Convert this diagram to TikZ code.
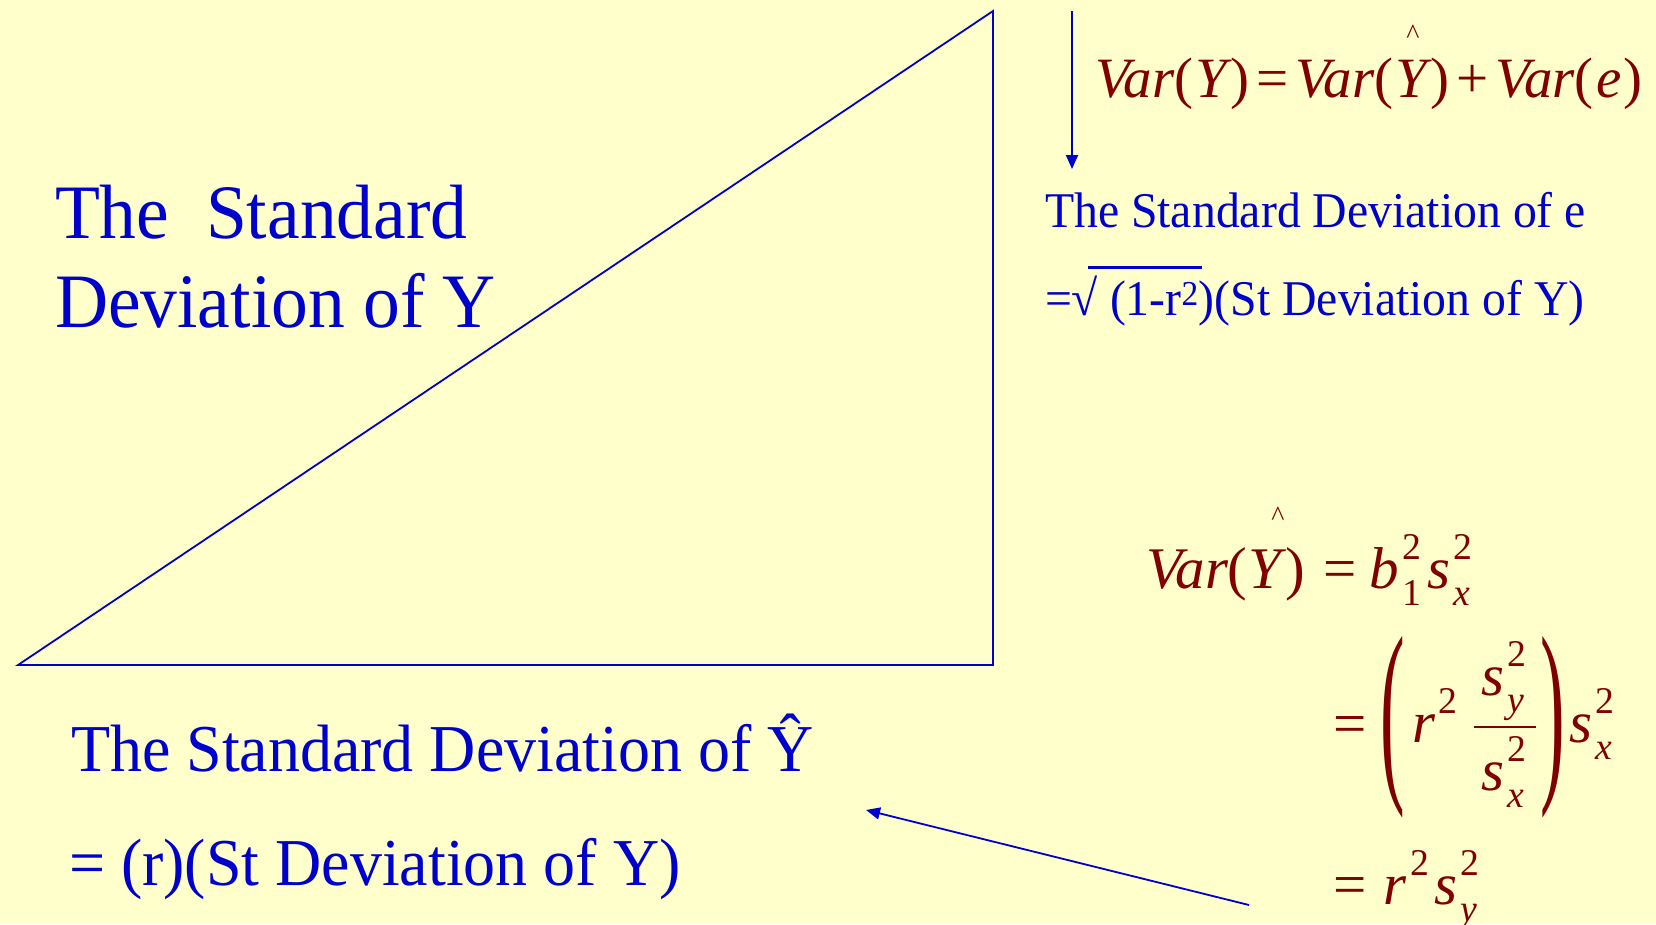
\documentclass[tikz,border=0pt]{standalone}
\usepackage{graphicx}
\usepackage{fontspec}
\setmainfont[FakeStretch=0.955]{Liberation Serif}
\newfontfamily\eqfont{Liberation Serif}
\usetikzlibrary{arrows.meta}
\definecolor{bgc}{HTML}{FFFFCC}
\definecolor{tblue}{HTML}{0000CC}
\definecolor{dred}{HTML}{800000}
\newcommand\ovl[1]{\setbox0=\hbox{#1}\rlap{\kern-0.21em\rule[0.93em]{\dimexpr\wd0-0.05em\relax}{0.045em}}\box0}
\newcommand\iv[1]{{\itshape #1}}
\newcommand\SubSup[2]{\kern0.06em\setbox0\hbox{\scalebox{0.64}{#2}}\setbox2\hbox{\scalebox{0.64}{#1}}%
  \dimen0=\wd0 \ifdim\wd2>\dimen0 \dimen0=\wd2\fi
  \hbox to\dimen0{\rlap{\raise0.48em\box0}\rlap{\lower0.29em\box2}\hfil}}
\newcommand\Sup[1]{\kern0.06em\raise0.48em\hbox{\scalebox{0.64}{#1}}}
\newcommand\opgap{\kern0.12em}
\begin{document}
\begin{tikzpicture}[x=1pt,y=-1pt,
  txt/.style={anchor=base west,inner sep=0pt,outer sep=0pt},
  bluetxt/.style={txt,text=tblue},
  redtxt/.style={txt,text=dred},
  hatmark/.style={anchor=base,inner sep=0pt,text=dred,font=\eqfont\fontsize{28}{28}\selectfont},
  eqsize/.style={font=\eqfont\fontsize{#1}{#1}\selectfont},
  ln/.style={draw=tblue,line width=1.8pt},
  arr/.style={ln,-{Triangle[length=14pt,width=12pt]}}]
\useasboundingbox (0,0) rectangle (1656,924);
\fill[bgc] (0,0) rectangle (1656,924);
% triangle
\coordinate (A) at (18,665);
\coordinate (B) at (993,665);
\coordinate (C) at (993,11);
\draw[ln,line join=miter] (A) -- (B) -- (C) -- cycle;
% big label
\node[bluetxt,font=\fontsize{77}{90}\selectfont] (big1) at (55,238) {The\ \ Standard};
\node[bluetxt,font=\fontsize{77}{90}\selectfont] (big2) at (55,327) {Deviation of Y};
% top right equation
\node[redtxt,eqsize=57] (eq1) at (1095,97)
  {\iv{Var}(\kern0.04em\iv{Y}\kern0.06em)\opgap=\opgap\iv{Var}(\kern0.04em\iv{Y}\kern0.06em)\opgap+\opgap\iv{Var}(\kern0.04em\iv{e}\kern0.04em)};
\node[hatmark] (hat1) at (1413,43) {\textasciicircum};
% sd of e
\node[bluetxt,font=\fontsize{50}{60}\selectfont] (sde1) at (1045,227) {The Standard Deviation of e};
\node[bluetxt,font=\fontsize{50}{60}\selectfont] (sde2) at (1045,315) {=√\ovl{ (1-r\textsuperscript{2})}(St Deviation of Y)};
% bottom left
\node[bluetxt,font=\fontsize{67}{80}\selectfont] (bot1) at (71,771) {The Standard Deviation of Ŷ};
\node[bluetxt,font=\fontsize{67}{80}\selectfont] (bot2) at (69,885) {= (r)(St Deviation of Y)};
% right equations
\node[redtxt,eqsize=59] (eq2) at (1146,588)
  {\iv{Var}(\kern0.02em\iv{Y}\kern0.07em)\kern0.3em=\kern0.22em\iv{b}\SubSup{1}{2}\kern0.1em\iv{s}\SubSup{\iv{x}}{2}};
\node[hatmark] (hat2) at (1278,525) {\textasciicircum};
% third line: = ( r^2 s_y^2 / s_x^2 ) s_x^2
\node[redtxt,eqsize=59] (eq3eq) at (1333,743) {=};
\node[inner sep=0pt,text=dred,eqsize=59] (lpar) at (1393,727) {\scalebox{1.25}[3.4]{(}};
\node[redtxt,eqsize=59] (eq3r) at (1412,742) {\iv{r}\Sup{2}};
\node[redtxt,eqsize=59] (num) at (1481,695) {\iv{s}\SubSup{\iv{y}}{2}};
\coordinate (fb1) at (1474,727);
\coordinate (fb2) at (1536,727);
\draw[dred,line width=2pt] (fb1) -- (fb2);
\node[redtxt,eqsize=59] (den) at (1481,790) {\iv{s}\SubSup{\iv{x}}{2}};
\node[inner sep=0pt,text=dred,eqsize=59] (rpar) at (1553,727) {\scalebox{1.25}[3.4]{)}};
\node[redtxt,eqsize=59] (eq3s) at (1569,742) {\iv{s}\SubSup{\iv{x}}{2}};
% fourth line
\node[redtxt,eqsize=59] (eq4) at (1333,904) {=\kern0.3em\iv{r}\Sup{2}\kern0.08em\iv{s}\SubSup{\iv{y}}{2}};
% arrows
\coordinate (a1s) at (1072,11);
\coordinate (a1e) at (1072,169);
\draw[arr] (a1s) -- (a1e);
\coordinate (a2s) at (1249,905);
\coordinate (a2e) at (866,810);
\draw[arr] (a2s) -- (a2e);
\end{tikzpicture}
\end{document}
